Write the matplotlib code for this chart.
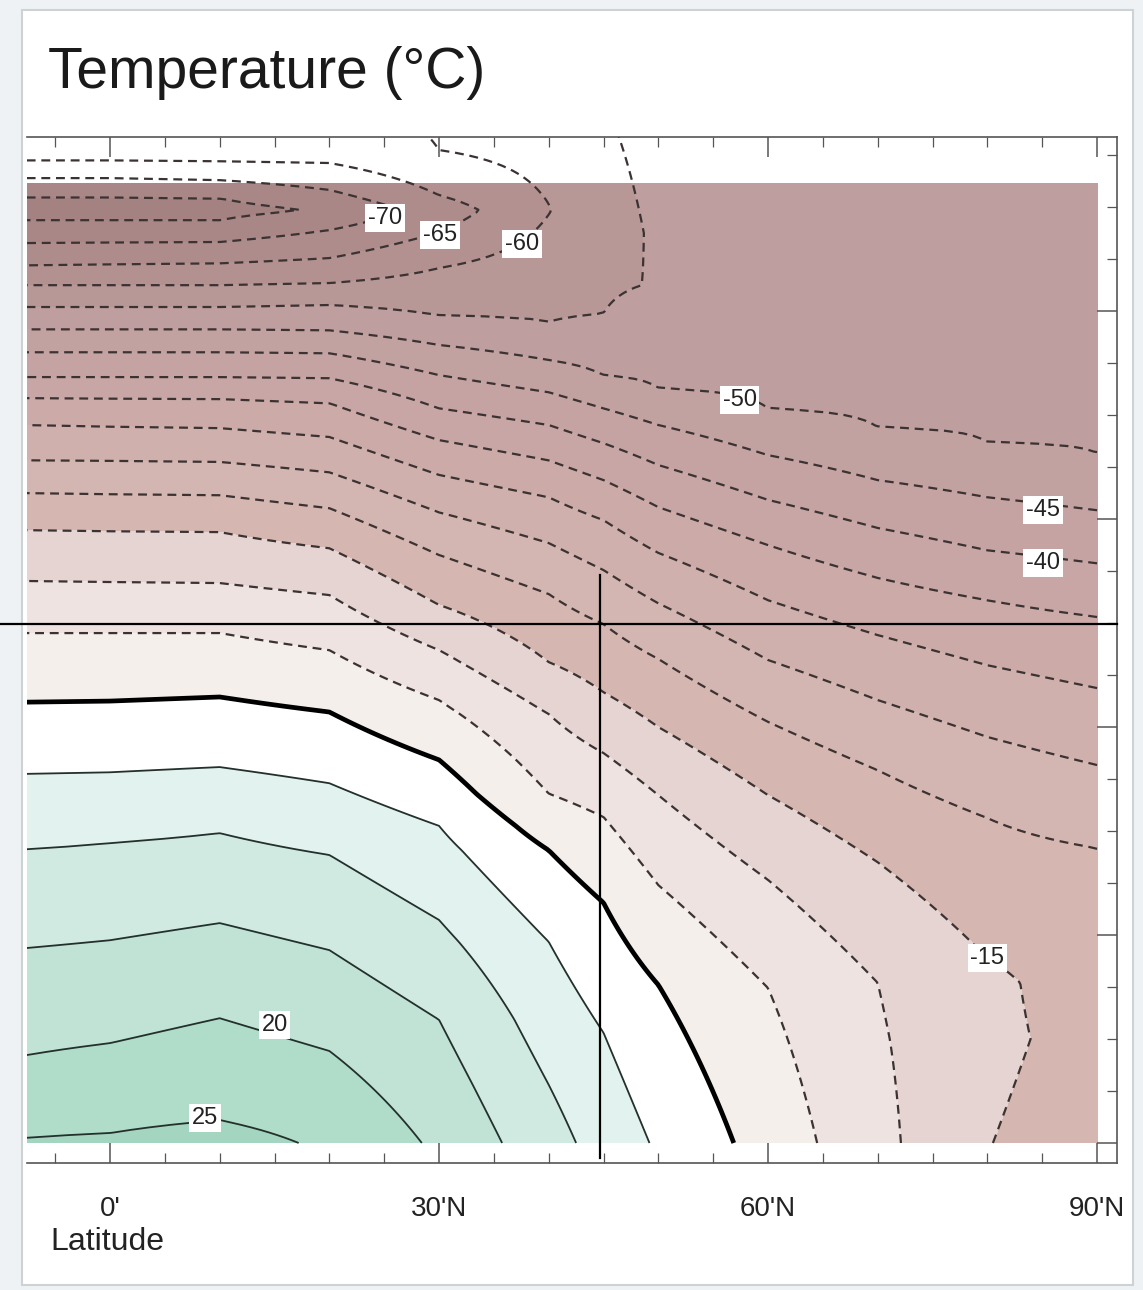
import numpy as np
import matplotlib
matplotlib.use('Agg')
from matplotlib import pyplot as plt
from matplotlib.patches import Rectangle

plt.rcParams['font.family'] = ['Liberation Sans', 'DejaVu Sans']

W, H = 1143, 1290
nan = np.nan

# latitude columns (deg N) at which the isotherm heights were read
lats = [-7.6, 0, 10, 20, 30, 40, 45, 50, 60, 70, 80, 90]

# temperature at the ground and at the top of the panel
surface_T = [25.4, 25.8, 26.8, 24.3, 19.2, 11.9, 8.1, 4.4, -2.0, -8.7, -14.84, -18.0]
top_T = [-61.5, -61.5, -62.0, -62.5, -59.5, -57.5, -55.3, -54.0, -52.5, -52.5, -52.0, -52.0]

# coldest point of each column (tropopause)
trop_z = [17.97, 17.97, 17.97, 17.94, 17.94, 17.94, 17.5, 16.5, 16.0, 16.0, 16.0, 16.0]
trop_T = [-77.0, -77.0, -76.5, -74.6, -67.8, -60.2, -56.3, -54.8, -53.0, -53.0, -52.5, -52.5]

# height (km) of each isotherm below the tropopause
h_p25 = [0.10, 0.19, 0.44, nan, nan, nan, nan, nan, nan, nan, nan, nan]
h_p20 = [1.69, 1.92, 2.40, 1.77, nan, nan, nan, nan, nan, nan, nan, nan]
h_p15 = [3.75, 3.90, 4.23, 3.71, 2.37, nan, nan, nan, nan, nan, nan, nan]
h_p10 = [5.65, 5.77, 5.96, 5.54, 4.29, 1.12, nan, nan, nan, nan, nan, nan]
h_p05 = [7.10, 7.13, 7.23, 6.92, 6.10, 3.87, 2.12, nan, nan, nan, nan, nan]
h_0 = [8.48, 8.50, 8.58, 8.29, 7.37, 5.63, 4.62, 3.04, nan, nan, nan, nan]
h_m05 = [9.81, 9.81, 9.81, 9.48, 8.52, 6.72, 6.27, 4.96, 2.98, nan, nan, nan]
h_m10 = [10.81, 10.79, 10.77, 10.54, 9.48, 8.25, 7.50, 6.69, 5.06, 3.08, nan, nan]
h_m15 = [11.79, 11.77, 11.75, 11.44, 10.35, 9.25, 8.67, 8.00, 6.69, 5.40, 3.56, nan]
h_m20 = [12.50, 12.48, 12.46, 12.21, 11.31, 10.56, 9.98, 9.31, 8.10, 7.17, 6.25, 5.67]
h_m25 = [13.13, 13.12, 13.10, 12.90, 12.13, 11.54, 11.02, 10.38, 9.29, 8.52, 7.81, 7.27]
h_m30 = [13.81, 13.78, 13.75, 13.58, 12.85, 12.42, 11.98, 11.35, 10.44, 9.77, 9.19, 8.75]
h_m35 = [14.33, 14.32, 14.31, 14.23, 13.52, 13.13, 12.75, 12.23, 11.50, 10.87, 10.44, 10.12]
h_m40 = [14.73, 14.73, 14.73, 14.71, 14.13, 13.81, 13.46, 13.04, 12.37, 11.83, 11.40, 11.15]
h_m45 = [15.21, 15.21, 15.21, 15.19, 14.77, 14.44, 14.13, 13.81, 13.23, 12.75, 12.42, 12.17]
h_m50 = [15.65, 15.65, 15.65, 15.63, 15.35, 15.06, 14.77, 14.52, 14.13, 13.77, 13.48, 13.27]
h_m55 = [16.08, 16.08, 16.08, 16.12, 15.92, 15.80, 15.96, nan, nan, nan, nan, nan]
h_m60 = [16.50, 16.50, 16.50, 16.54, 16.83, nan, nan, nan, nan, nan, nan, nan]
h_m65 = [16.88, 16.90, 16.92, 17.02, 17.52, nan, nan, nan, nan, nan, nan, nan]
h_m70 = [17.31, 17.32, 17.33, 17.56, nan, nan, nan, nan, nan, nan, nan, nan]
h_m75 = [17.75, 17.75, 17.75, nan, nan, nan, nan, nan, nan, nan, nan, nan]

lower_levels = [25, 20, 15, 10, 5, 0, -5, -10, -15, -20, -25, -30, -35,
                -40, -45, -50, -55, -60, -65, -70, -75]
lower_heights = [h_p25, h_p20, h_p15, h_p10, h_p05, h_0, h_m05, h_m10, h_m15,
                 h_m20, h_m25, h_m30, h_m35, h_m40, h_m45, h_m50, h_m55,
                 h_m60, h_m65, h_m70, h_m75]

# isotherm heights above the tropopause (warming again)
u_m75 = [18.19, 18.19, 18.17, nan, nan, nan, nan, nan, nan, nan, nan, nan]
u_m70 = [18.56, 18.56, 18.52, 18.33, nan, nan, nan, nan, nan, nan, nan, nan]
u_m65 = [18.90, 18.90, 18.87, 18.85, 18.23, nan, nan, nan, nan, nan, nan, nan]
u_m60 = [nan, nan, nan, nan, 19.10, nan, nan, nan, nan, nan, nan, nan]
upper_levels = [-75, -70, -65, -60]
upper_heights = [u_m75, u_m70, u_m65, u_m60]

# shallow warm layer over the arctic
extra_lat = [80, 80, 90, 90]
extra_z = [2.0, 3.08, 2.0, 4.0]
extra_T = [-13.7, -13.8, -17.0, -18.5]

# contour labels: value, lat, km
label_vals = [-70, -65, -60, -50, -45, -40, -15, 20, 25]
label_lat = [25.1, 30.1, 37.6, 57.4, 85.1, 85.1, 80.0, 15.0, 8.7]
label_z = [17.79, 17.46, 17.29, 14.29, 12.17, 11.15, 3.56, 2.27, 0.48]

# hand-drawn crosshair
cross_lat, cross_z = 44.68, 9.98


def column_profile(i):
    zs = [0.0]
    ts = [surface_T[i]]
    for lev, h in zip(lower_levels + upper_levels, lower_heights + upper_heights):
        if not np.isnan(h[i]):
            zs.append(h[i])
            ts.append(lev)
    zs.append(trop_z[i])
    ts.append(trop_T[i])
    for la, z, t in zip(extra_lat, extra_z, extra_T):
        if la == lats[i]:
            zs.append(z)
            ts.append(t)
    zs.append(19.5)
    ts.append(top_T[i])
    order = np.argsort(zs)
    return np.array(zs)[order], np.array(ts)[order]


def build_field(zgrid):
    field = np.zeros((len(zgrid), len(lats)))
    for i in range(len(lats)):
        zs, ts = column_profile(i)
        field[:, i] = np.interp(zgrid, zs, ts)
    return field


z_line = np.linspace(0, 19.5, 391)
z_fill = np.linspace(0, 18.46, 370)
T_line = build_field(z_line)
T_fill = build_field(z_fill)

fill_levels = np.arange(-80, 35, 5)
band_colors = ['#a48282', '#a98787', '#ae8c8c', '#b39191', '#b89797', '#be9e9e',
               '#c2a1a1', '#c5a3a3', '#c8a6a5', '#cbaaa8', '#cfb0ad', '#d3b5b1',
               '#d6b6b0', '#e6d4d2', '#eee3e0', '#f5efec', '#ffffff', '#e2f2ee',
               '#d0eae1', '#c0e3d5', '#b0dcca', '#a3d5c0']

fig = plt.figure(figsize=(W / 100, H / 100), dpi=100, facecolor='#eef2f4')
fig.patches.append(Rectangle((22 / W, 1 - 1285 / H), (1133 - 22) / W, (1285 - 10) / H,
                             transform=fig.transFigure, facecolor='white',
                             edgecolor='#cdd2d5', lw=1.5, zorder=-5))

ax = fig.add_axes([27 / W, 1 - 1163 / H, (1117 - 27) / W, (1163 - 137) / H])
ax.set_facecolor('none')

ax.contourf(lats, z_fill, T_fill, levels=fill_levels, colors=band_colors, zorder=1)

ax.contour(lats, z_line, T_line, levels=np.arange(-75, 0, 5), colors='#3b3232',
           linewidths=1.6, linestyles=[(0, (4, 2.6))], zorder=3)
ax.contour(lats, z_line, T_line, levels=[5, 10, 15, 20, 25], colors='#23302c',
           linewidths=1.3, linestyles='solid', zorder=3)
ax.contour(lats, z_line, T_line, levels=[0], colors='black', linewidths=3.4, zorder=3)

for v, la, z in zip(label_vals, label_lat, label_z):
    ax.text(la, z, str(v), fontsize=17, color='#222222', ha='center', va='center', zorder=6,
            bbox=dict(boxstyle='square,pad=0.12', facecolor='white', edgecolor='none'))

ax.plot([-10.03, 91.82], [cross_z, cross_z], color='black', lw=1.6, clip_on=False, zorder=8)
ax.plot([cross_lat, cross_lat], [10.92, -0.29], color='black', lw=1.6, clip_on=False, zorder=8)

ax.set_xlim(-7.57, 91.82)
ax.set_ylim(-0.385, 19.35)
ax.set_xticks([0, 30, 60, 90])
ax.set_xticks(np.arange(-5, 91, 5), minor=True)
ax.set_xticklabels(["0'", "30'N", "60'N", "90'N"], fontsize=20, color='#222222')
ax.set_yticks([0, 4, 8, 12, 16])
ax.set_yticks(np.arange(0, 20, 1), minor=True)
ax.tick_params(axis='x', which='both', direction='in', top=True, bottom=True,
               labeltop=False, color='#555555')
ax.tick_params(axis='x', which='major', length=14.4, width=1.1, pad=24)
ax.tick_params(axis='x', which='minor', length=7.2, width=0.9)
ax.tick_params(axis='y', which='both', direction='in', left=False, right=True,
               labelleft=False, labelright=False, color='#555555')
ax.tick_params(axis='y', which='major', length=14.4, width=1.1)
ax.tick_params(axis='y', which='minor', length=7.2, width=0.9)
ax.spines['left'].set_visible(False)
for s in ['top', 'bottom', 'right']:
    ax.spines[s].set_color('#555555')
    ax.spines[s].set_linewidth(1.2)

fig.text(48 / W, 1 - 88 / H, 'Temperature (°C)', fontsize=41, color='#1a1a1a',
         ha='left', va='baseline')
fig.text(50 / W, 1 - 1250 / H, 'Latitude', fontsize=23, color='#222222',
         ha='left', va='baseline')

fig.savefig('out.png', dpi=100)
